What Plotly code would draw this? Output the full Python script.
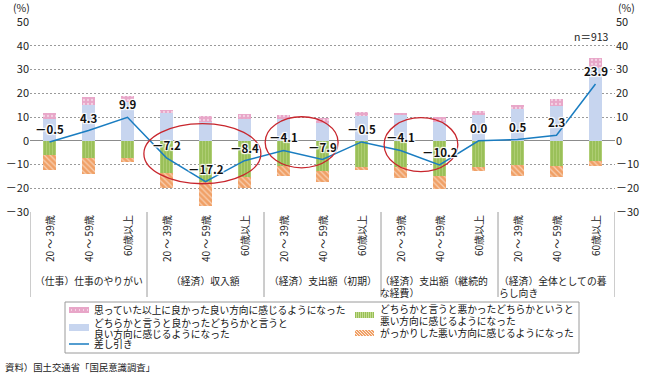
import plotly.graph_objects as go

# ---------------- data ----------------
age_labels = ["20 ～ 39歳", "40 ～ 59歳", "60歳以上"]
groups = ["（仕事）仕事のやりがい", "（経済）収入額", "（経済）支出額（初期）",
          "（経済）支出額（継続的な経費）", "（経済）全体としての暮らし向き"]

much_better = [2.4, 3.2, 2.4, 1.0, 2.2, 2.1, 1.6, 2.1, 1.6, 1.0, 1.9, 1.7, 1.8, 3.2, 4.2]
somewhat_better = [9.3, 15.2, 16.4, 11.8, 8.1, 9.3, 9.2, 7.3, 10.3, 10.7, 8.1, 11.0, 13.4, 14.5, 30.5]
somewhat_worse = [6.2, 7.4, 7.2, 13.5, 17.5, 15.3, 10.8, 12.9, 11.1, 11.2, 15.0, 10.9, 10.4, 10.5, 8.4]
disappointed = [6.0, 6.7, 1.7, 6.5, 10.0, 4.5, 4.1, 4.4, 1.3, 4.6, 5.2, 1.8, 4.3, 4.9, 2.4]
net = [-0.5, 4.3, 9.9, -7.2, -17.2, -8.4, -4.1, -7.9, -0.5, -4.1, -10.2, 0.0, 0.5, 2.3, 23.9]

y_ticks = [-30, -20, -10, 0, 10, 20, 30, 40, 50]

legend_names = ["思っていた以上に良かった良い方向に感じるようになった",
                "どちらかと言うと良かったどちらかと言うと", "良い方向に感じるようになった",
                "差し引き",
                "どちらかと言うと悪かったどちらかというと", "悪い方向に感じるようになった",
                "がっかりした悪い方向に感じるようになった"]

# ---------------- styling ----------------
FONT = "Noto Sans CJK JP"
PINK = "#e8a6c8"
BLUE = "#c7d5ef"
GREEN = "#98bf55"
GREEN_L = "#c4dc92"
ORANGE = "#f0a066"
LINE = "#1a7dc1"
RED = "#c8262d"
GRAY = "#9a9a9a"

W, H = 645, 376
PL, PR, PT, PB = 30, 615, 22, 212


def pxx(px):
    return (px - PL) / (PR - PL)


def pxy(py):
    return (PB - py) / (PB - PT)


def fmt(v):
    return ("－" if v < 0 else "") + f"{abs(v):.1f}"


def tfmt(v):
    return ("－" if v < 0 else "") + str(abs(v))


n = len(net)
xs = list(range(n))

fig = go.Figure()
bw = 0.31
fig.add_trace(go.Bar(x=xs, y=somewhat_better, width=bw, marker=dict(color=BLUE, line=dict(width=0)),
                     showlegend=False, hoverinfo="skip"))
fig.add_trace(go.Bar(x=xs, y=much_better, width=bw,
                     marker=dict(color=PINK, line=dict(width=0),
                                 pattern=dict(shape=".", fgcolor="white", size=4, solidity=0.25, fillmode="overlay")),
                     showlegend=False, hoverinfo="skip"))
fig.add_trace(go.Bar(x=xs, y=[-v for v in somewhat_worse], width=bw,
                     marker=dict(color=GREEN, line=dict(width=0),
                                 pattern=dict(shape="|", fgcolor=GREEN_L, size=3, solidity=0.4, fillmode="overlay")),
                     showlegend=False, hoverinfo="skip"))
fig.add_trace(go.Bar(x=xs, y=[-v for v in disappointed], width=bw,
                     marker=dict(color=ORANGE, line=dict(width=0),
                                 pattern=dict(shape="\\", fgcolor="white", size=4, solidity=0.3, fillmode="overlay")),
                     showlegend=False, hoverinfo="skip"))
fig.add_trace(go.Scatter(x=xs, y=net, mode="lines", line=dict(color=LINE, width=1.5),
                         showlegend=False, hoverinfo="skip"))
# invisible trace to activate right axis
fig.add_trace(go.Scatter(x=[0], y=[0], yaxis="y2", mode="markers", marker=dict(opacity=0),
                         showlegend=False, hoverinfo="skip"))

shadow = "1px 1px 1px white, -1px -1px 1px white, 1px -1px 1px white, -1px 1px 1px white, 0 0 2px white"
ann = []
for i, v in enumerate(net):
    ann.append(dict(x=i, y=v, xref="x", yref="y", text=fmt(v), showarrow=False, yshift=13,
                    font=dict(family=FONT, size=11.5, color="#111", weight="bold", shadow=shadow)))

# rotated age labels
for i in range(n):
    ann.append(dict(x=i, y=pxy(214), xref="x", yref="paper", text=age_labels[i % 3], textangle=-90,
                    showarrow=False, xanchor="center", yanchor="top", borderpad=0,
                    font=dict(family=FONT, size=10, color="#222")))

# group labels
gl_y1, gl_y2 = 281, 293
gfont = dict(family=FONT, size=9.8, color="#222")
for gi in range(3):
    ann.append(dict(x=gi * 3 + 1, y=pxy(gl_y1), xref="x", yref="paper", text=groups[gi], showarrow=False,
                    xanchor="center", yanchor="middle", borderpad=0, font=gfont))
for (gx, t1, t2) in [(379, "（経済）支出額（継続的", "な経費）"), (498, "（経済）全体としての暮", "らし向き")]:
    ann.append(dict(x=pxx(gx), y=pxy(gl_y1), xref="paper", yref="paper", text=t1, showarrow=False,
                    xanchor="left", yanchor="middle", borderpad=0, font=gfont))
    ann.append(dict(x=pxx(gx), y=pxy(gl_y2), xref="paper", yref="paper", text=t2, showarrow=False,
                    xanchor="left", yanchor="middle", borderpad=0, font=gfont))

# top texts
for px_ in (12, 617):
    ann.append(dict(x=pxx(px_), y=pxy(8), xref="paper", yref="paper", text="(%)", showarrow=False,
                    xanchor="left", yanchor="middle", borderpad=0, font=dict(family=FONT, size=10.5, color="#222")))
ann.append(dict(x=pxx(611), y=pxy(36), xref="paper", yref="paper", text="n＝913", showarrow=False,
                xanchor="right", yanchor="middle", font=dict(family=FONT, size=10.5, color="#222")))
ann.append(dict(x=pxx(3), y=pxy(367), xref="paper", yref="paper", text="資料）国土交通省「国民意識調査」",
                showarrow=False, xanchor="left", yanchor="middle", font=dict(family=FONT, size=9.4, color="#222")))

# legend texts
leg_pos = [(93, 309.5), (93, 322.5), (93, 333.5), (93, 344.5), (379, 309), (379, 321), (379, 333)]
for txt, (lx, ly) in zip(legend_names, leg_pos):
    ann.append(dict(x=pxx(lx), y=pxy(ly), xref="paper", yref="paper", text=txt, showarrow=False,
                    xanchor="left", yanchor="middle", borderpad=0,
                    font=dict(family=FONT, size=9.7, color="#111")))

shapes = []
# separators below plot
for b in [-0.5, 2.5, 5.5, 8.5, 11.5, 14.5]:
    shapes.append(dict(type="line", xref="x", yref="paper", x0=b, x1=b, y0=0, y1=pxy(297),
                       line=dict(color=GRAY, width=1)))
# ellipses
for (x0, x1, y0, y1) in [(2.42, 5.42, -18.1, 7.2), (5.53, 7.4, -11.4, 10.1), (8.58, 10.47, -13.0, 9.7)]:
    shapes.append(dict(type="circle", xref="x", yref="y", x0=x0, x1=x1, y0=y0, y1=y1,
                       line=dict(color=RED, width=1.3), layer="above"))


def rect(x0, y0, x1, y1, **kw):
    d = dict(type="rect", xref="paper", yref="paper", x0=pxx(x0), x1=pxx(x1), y0=pxy(y1), y1=pxy(y0))
    d.update(kw)
    return d


def seg(x0, y0, x1, y1, color, w=1):
    return dict(type="line", xref="paper", yref="paper", x0=pxx(x0), x1=pxx(x1), y0=pxy(y0), y1=pxy(y1),
                line=dict(color=color, width=w))


# legend box
shapes.append(rect(65, 302, 579, 353, line=dict(color=GRAY, width=1), fillcolor="rgba(0,0,0,0)"))
# pink swatch
shapes.append(rect(69, 307, 89, 313, line=dict(width=0), fillcolor=PINK))
for dx in range(71, 89, 4):
    shapes.append(rect(dx, 309.5, dx + 1, 310.5, line=dict(width=0), fillcolor="white"))
# blue swatch
shapes.append(rect(69, 324, 89, 331, line=dict(width=0), fillcolor=BLUE))
# line swatch
shapes.append(seg(69, 344, 89, 344, LINE, 1.5))
# green swatch
shapes.append(rect(355, 312, 374, 318, line=dict(width=0), fillcolor=GREEN))
for dx in range(356, 374, 2):
    shapes.append(seg(dx + 0.5, 312, dx + 0.5, 318, GREEN_L, 1))
# orange swatch
shapes.append(rect(355, 330, 374, 336, line=dict(width=0), fillcolor=ORANGE))
for dx in range(352, 374, 3):
    x0, x1 = max(dx, 355), min(dx + 6, 374)
    shapes.append(seg(x0, 330 + (x0 - dx), x1, 330 + (x1 - dx), "white", 0.8))

fig.update_layout(
    width=W, height=H, margin=dict(l=PL, r=W - PR, t=PT, b=H - PB, pad=0, autoexpand=False),
    paper_bgcolor="white", plot_bgcolor="white",
    barmode="relative", bargap=0, showlegend=False,
    font=dict(family=FONT, size=10.5, color="#222"),
    xaxis=dict(range=[-0.5, n - 0.5], showticklabels=False, showgrid=False, zeroline=False,
               showline=False, ticks="", fixedrange=True, automargin=False),
    yaxis=dict(range=[-30, 50], tickvals=y_ticks, ticktext=[tfmt(v) for v in y_ticks],
               showgrid=True, gridcolor=GRAY, gridwidth=0.8, griddash="2px,2px",
               zeroline=True, zerolinecolor="#8c8c8c", zerolinewidth=1, automargin=False,
               showline=False, ticks="", tickfont=dict(family=FONT, size=11, color="#222")),
    yaxis2=dict(range=[-30, 50], overlaying="y", side="right", tickvals=y_ticks, automargin=False,
                ticktext=[tfmt(v) for v in y_ticks], showgrid=False, zeroline=False, showline=False,
                ticks="", tickfont=dict(family=FONT, size=11, color="#222")),
    annotations=ann, shapes=shapes,
)

fig.write_html("out.html", config={"displayModeBar": False},
               post_script="document.body.style.margin='0px';document.body.style.padding='0px';")
